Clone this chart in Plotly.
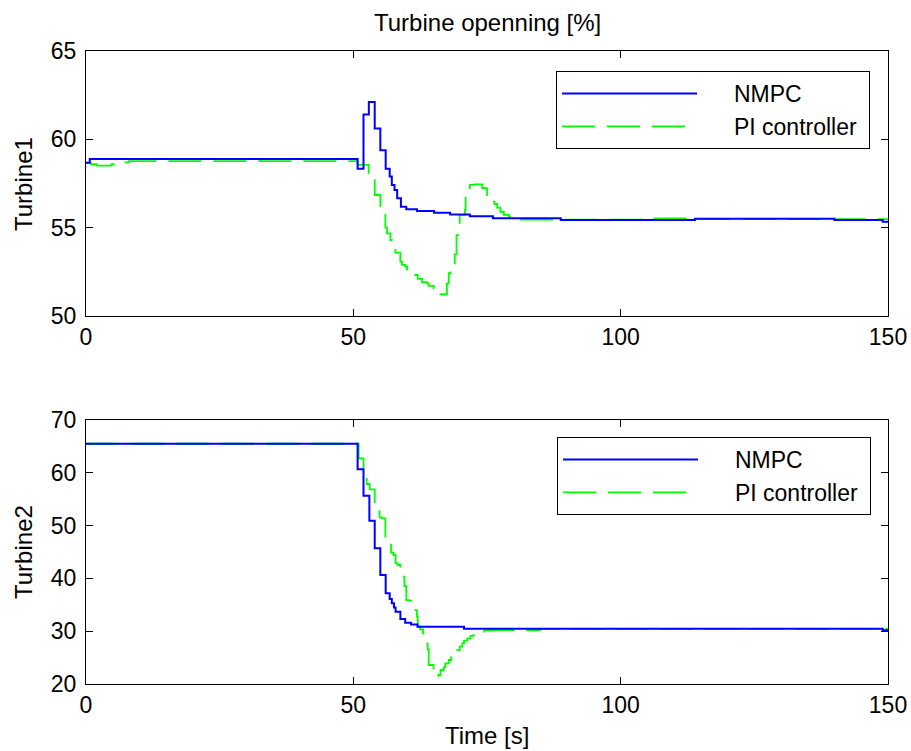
import plotly.graph_objects as go

# ---------------- data ----------------
t1_nmpc = [0, 0.7, 50.8, 51.9, 52.9, 54.0, 55.05, 56.05, 56.8, 57.2, 57.7, 58.2, 58.9,
           59.9, 61.9, 65.1, 68.1, 71.8, 76.1, 88.8, 113.9, 140.0, 149.0, 150]
v1_nmpc = [58.68, 58.88, 58.34, 61.4, 62.11, 60.62, 59.38, 58.34, 57.89, 57.42, 57.13, 56.66, 56.19,
           56.04, 55.94, 55.85, 55.74, 55.64, 55.53, 55.43, 55.51, 55.43, 55.33, 55.33]

t1_pi = [0, 0.9, 2.0, 4.8, 6.05, 8.0, 50.8, 52.87, 54.0, 55.06, 56.0, 56.3, 56.93, 57.24, 57.87,
         58.8, 59.1, 59.74, 60.05, 61.0, 61.3, 62.05, 62.86, 63.8, 64.1, 65.05, 65.7, 66.3,
         67.5, 67.85, 68.16, 68.97, 69.3, 69.9, 70.85, 71.0, 71.8, 72.6, 74.1, 75.0, 75.5, 75.97,
         76.4, 76.9, 77.5, 78.15, 79.1, 80.65, 105.0, 113.0, 150]
v1_pi = [58.68, 58.59, 58.51, 58.59, 58.70, 58.77, 58.55, 57.70, 56.85, 55.72, 55.00, 54.68, 54.30, 53.92, 53.59,
         53.08, 52.89, 52.79, 52.57, 52.51, 52.32, 52.10, 51.91, 51.85, 51.70, 51.57, 51.38, 51.23,
         51.85, 52.42, 52.98, 53.49, 54.58, 55.72, 56.00, 56.85, 57.42, 57.45, 57.23, 56.85, 56.75, 56.47,
         56.34, 56.13, 55.90, 55.72, 55.62, 55.45, 55.53, 55.48, 55.48]

t2_nmpc = [0, 50.8, 51.9, 53.0, 54.0, 55.05, 56.05, 56.8, 57.2, 57.6, 57.9, 58.8, 59.7, 60.8,
           62.0, 70.7, 149.0, 150]
v2_nmpc = [65.5, 60.66, 55.66, 50.93, 45.7, 40.64, 37.18, 36.1, 35.3, 34.5, 33.7, 32.3, 31.6, 31.25,
           30.85, 30.47, 30.2, 30.2]

t2_pi = [0, 51.0, 51.9, 52.5, 53.05, 54.0, 54.9, 55.3, 56.0, 57.05, 57.5, 57.9, 58.3, 58.8, 59.55,
         59.9, 60.5, 61.0, 61.9, 62.05, 62.5, 63.05, 63.5, 63.9, 64.1, 65.0, 65.9, 66.3, 66.9,
         67.2, 67.85, 68.3, 68.9, 69.4, 69.9, 70.4, 70.7, 71.3, 71.9, 72.5, 73.5, 74.5, 85.0, 150]
v2_pi = [65.5, 62.74, 59.58, 57.88, 56.87, 53.58, 51.57, 51.38, 47.59, 44.87, 44.43, 42.85, 42.54, 40.33, 38.56,
         35.9, 35.78, 34.0, 32.75, 30.86, 30.36, 29.6, 27.7, 26.56, 23.6, 21.4, 21.7, 22.65, 23.16,
         23.9, 24.55, 25.17, 25.68, 26.4, 27.08, 27.7, 28.2, 28.65, 29.1, 29.6, 29.92, 30.23, 30.45, 30.45]

series_names = ["NMPC", "PI controller"]
x_ticks = [0, 50, 100, 150]
y1_ticks = [50, 55, 60, 65]
y2_ticks = [20, 30, 40, 50, 60, 70]

title_text = "Turbine openning [%]"
y1_title = "Turbine1"
y2_title = "Turbine2"
x_title = "Time [s]"

# ---------------- layout geometry (pixels) ----------------
W, H = 911, 751
ML, MR, MT, MB = 86, 23, 51, 67
PW, PH = W - ML - MR, H - MT - MB


def px_x(p):
    return (p - ML) / PW


def px_y(p):
    return (H - MB - p) / PH


FONT = "Liberation Sans, Arial, sans-serif"
BLUE = "#0000FF"
GREEN = "#00FF00"
DASH = "33px,12px"
NB = "\u00a0"

fig = go.Figure()

fig.add_trace(go.Scatter(x=t1_pi, y=v1_pi, mode="lines", line_shape="hv",
                         name=NB * 5 + series_names[1] + NB,
                         line=dict(color=GREEN, width=1.8, dash=DASH),
                         xaxis="x", yaxis="y", legend="legend", legendrank=2))
fig.add_trace(go.Scatter(x=t1_nmpc, y=v1_nmpc, mode="lines", line_shape="hv",
                         name=NB * 5 + series_names[0],
                         line=dict(color=BLUE, width=2),
                         xaxis="x", yaxis="y", legend="legend", legendrank=1))
fig.add_trace(go.Scatter(x=t2_pi, y=v2_pi, mode="lines", line_shape="hv",
                         name=NB * 5 + series_names[1] + NB,
                         line=dict(color=GREEN, width=1.8, dash=DASH),
                         xaxis="x2", yaxis="y2", legend="legend2", legendrank=2))
fig.add_trace(go.Scatter(x=t2_nmpc, y=v2_nmpc, mode="lines", line_shape="hv",
                         name=NB * 5 + series_names[0],
                         line=dict(color=BLUE, width=2),
                         xaxis="x2", yaxis="y2", legend="legend2", legendrank=1))

axis_common = dict(showgrid=False, zeroline=False, showline=True, linecolor="#000000", linewidth=1,
                   mirror="allticks", ticks="inside", ticklen=7, tickcolor="#000000", tickwidth=1,
                   automargin=False,
                   tickfont=dict(family=FONT, size=23, color="#000000"))

legend_common = dict(xanchor="right", yanchor="top", bgcolor="white",
                     bordercolor="#000000", borderwidth=1, itemwidth=135, tracegroupgap=0,
                     font=dict(family=FONT, size=23, color="#000000"))

fig.update_layout(
    width=W, height=H,
    margin=dict(l=ML, r=MR, t=MT, b=MB, autoexpand=False),
    paper_bgcolor="white", plot_bgcolor="white",
    font=dict(family=FONT, size=24, color="#000000"),
    xaxis=dict(domain=[0, 1], range=[0, 150], tickvals=x_ticks, anchor="y", **axis_common),
    yaxis=dict(domain=[px_y(316), 1], range=[50, 65], tickvals=y1_ticks, anchor="x",
               ticklabelstandoff=4, **axis_common),
    xaxis2=dict(domain=[0, 1], range=[0, 150], tickvals=x_ticks, anchor="y2", **axis_common),
    yaxis2=dict(domain=[0, px_y(420)], range=[20, 70], tickvals=y2_ticks, anchor="x2",
                ticklabelstandoff=4, **axis_common),
    legend=dict(x=px_x(870), y=px_y(71), **legend_common),
    legend2=dict(x=px_x(871), y=px_y(437), **legend_common),
    showlegend=True,
    annotations=[
        dict(text=title_text, xref="paper", yref="paper", x=0.5, y=px_y(22),
             xanchor="center", yanchor="middle", showarrow=False,
             font=dict(family=FONT, size=24, color="#000000")),
        dict(text=x_title, xref="paper", yref="paper", x=0.5, y=px_y(735),
             xanchor="center", yanchor="middle", showarrow=False,
             font=dict(family=FONT, size=24, color="#000000")),
        dict(text=y1_title, xref="paper", yref="paper", x=px_x(23), y=px_y(184),
             xanchor="center", yanchor="middle", showarrow=False, textangle=-90,
             font=dict(family=FONT, size=24, color="#000000")),
        dict(text=y2_title, xref="paper", yref="paper", x=px_x(23), y=px_y(552),
             xanchor="center", yanchor="middle", showarrow=False, textangle=-90,
             font=dict(family=FONT, size=24, color="#000000")),
    ],
)

fig.write_html("out.html")
